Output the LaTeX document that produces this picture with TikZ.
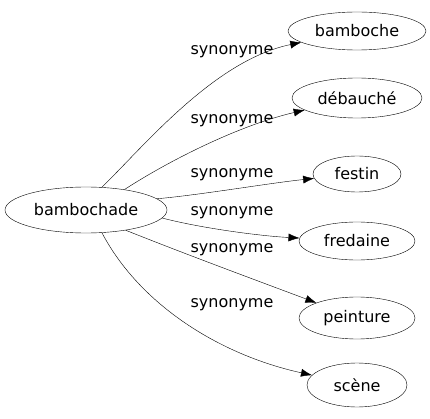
\documentclass[tikz,border=0pt]{standalone}
\usepackage{fontspec}
\setmainfont{DejaVu Sans}
\usetikzlibrary{arrows.meta,shapes.geometric}

\begin{document}
\begin{tikzpicture}[x=1pt,y=-1pt,
    mot/.style={draw, ellipse, inner sep=0pt, font=\fontsize{16}{18}\selectfont},
    kante/.style={-{Latex[length=11pt,width=8pt]}},
    etikett/.style={font=\fontsize{16}{18}\selectfont}]

  \useasboundingbox (0,0) rectangle (430,419);  %Rahmen wie Vorlage

  \node[mot, minimum width=162, minimum height=46] (bambochade) at (86,210) {bambochade};  %Ausgangswort

  \foreach \name/\y/\breit/\hoch/\mot in {bamboche/31/138/38/bamboche,  %\y ist Hoehe der Mitte
                                          debauche/98/130/40/débauché,
                                          festin/174/88/36/festin,
                                          fredaine/241/116/38/fredaine,
                                          peinture/318/116/42/peinture,
                                          scene/385/100/44/scène}
    \node[mot, minimum width=\breit, minimum height=\hoch] (\name) at (357,\y) {\mot};  %Synonyme rechts

  \foreach \ziel/\w/\ax/\ay/\bx/\by/\ly in {bamboche/55/145/145/215/60/52,  %\w ist Winkel am Ausgangswort
                                            debauche/28/170/160/240/125/121,
                                            festin/9/200/195/270/183/175,
                                            fredaine/-6/200/228/260/236/213,
                                            peinture/-27/180/252/250/278/250,
                                            scene/-55/140/305/220/355/305}
  {
    \draw[kante] (bambochade.\w) .. controls (\ax,\ay) and (\bx,\by) .. (\ziel);  %die Kanten
    \node[etikett] (l-\ziel) at (232,\ly) {synonyme};  %Kantenbeschriftung
  };
\end{tikzpicture}
\end{document}
